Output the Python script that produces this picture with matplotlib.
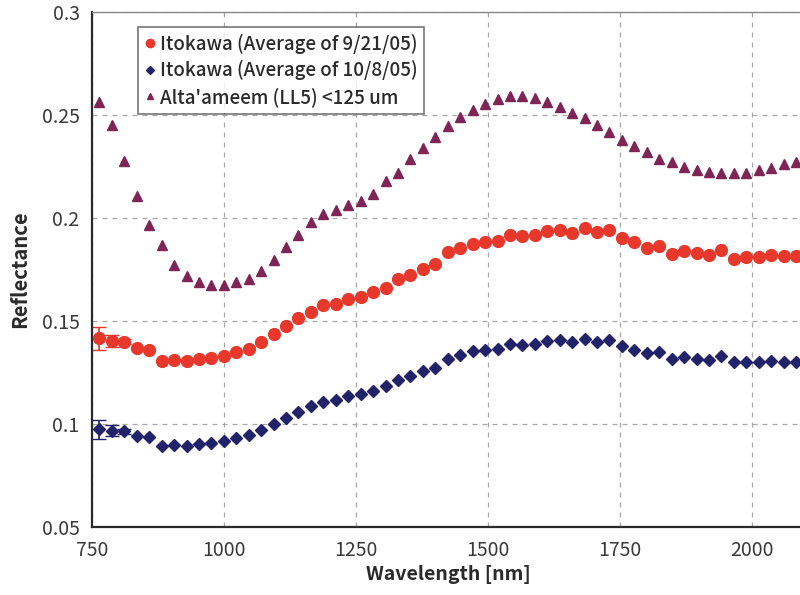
import matplotlib
matplotlib.use("Agg")
import matplotlib.pyplot as plt

plt.rcParams["font.family"] = ["Noto Sans CJK JP", "DejaVu Sans"]

# NIRS channel centres (nm)
wavelength = [764, 788, 811, 835, 858, 882, 905, 929, 952, 976,
              1000, 1023, 1047, 1070, 1094, 1117, 1141, 1164, 1188, 1212,
              1235, 1259, 1282, 1306, 1329, 1353, 1377, 1400, 1424, 1447,
              1471, 1494, 1518, 1541, 1565, 1589, 1612, 1636, 1659, 1683,
              1706, 1730, 1754, 1777, 1801, 1824, 1848, 1871, 1895, 1918,
              1942, 1966, 1989, 2013, 2036, 2060, 2083]

itokawa_0921 = [0.1417, 0.1404, 0.1401, 0.1369, 0.1359, 0.1307, 0.1312, 0.1307, 0.1315, 0.1319,
                0.1331, 0.1348, 0.1364, 0.1399, 0.1436, 0.1476, 0.1514, 0.1546, 0.1576, 0.1581,
                0.1605, 0.1618, 0.1643, 0.1662, 0.1702, 0.1723, 0.1755, 0.1779, 0.1834, 0.1855,
                0.1876, 0.1884, 0.1890, 0.1919, 0.1914, 0.1919, 0.1935, 0.1940, 0.1928, 0.1952,
                0.1932, 0.1943, 0.1903, 0.1882, 0.1855, 0.1866, 0.1823, 0.1842, 0.1831, 0.1819,
                0.1847, 0.1803, 0.1810, 0.1810, 0.1819, 0.1815, 0.1815]

itokawa_1008 = [0.0977, 0.0969, 0.0966, 0.0945, 0.0937, 0.0897, 0.0900, 0.0897, 0.0905, 0.0908,
                0.0918, 0.0932, 0.0948, 0.0972, 0.1001, 0.1030, 0.1058, 0.1090, 0.1109, 0.1117,
                0.1135, 0.1145, 0.1162, 0.1185, 0.1214, 0.1232, 0.1256, 0.1275, 0.1315, 0.1335,
                0.1353, 0.1360, 0.1367, 0.1388, 0.1385, 0.1388, 0.1402, 0.1409, 0.1399, 0.1415,
                0.1401, 0.1409, 0.1380, 0.1360, 0.1344, 0.1351, 0.1315, 0.1328, 0.1315, 0.1311,
                0.1331, 0.1300, 0.1302, 0.1304, 0.1307, 0.1304, 0.1304]

altaameem = [0.2563, 0.2451, 0.2278, 0.2104, 0.1964, 0.1868, 0.1774, 0.1721, 0.1691, 0.1676,
             0.1676, 0.1691, 0.1702, 0.1741, 0.1794, 0.1857, 0.1919, 0.1981, 0.2019, 0.2037,
             0.2064, 0.2080, 0.2116, 0.2177, 0.2220, 0.2286, 0.2341, 0.2391, 0.2446, 0.2491,
             0.2523, 0.2552, 0.2575, 0.2592, 0.2592, 0.2580, 0.2562, 0.2536, 0.2510, 0.2483,
             0.2451, 0.2418, 0.2378, 0.2349, 0.2322, 0.2286, 0.2273, 0.2249, 0.2230, 0.2225,
             0.2217, 0.2220, 0.2220, 0.2231, 0.2244, 0.2261, 0.2273]

# 1-sigma scatter, only visible on the short-wavelength end
err_0921 = [0.0055, 0.0030, 0.0012]
err_1008 = [0.0046, 0.0028, 0.0012]

RED, NAVY, PLUM = "#e8372b", "#22226a", "#7e2456"

fig = plt.figure(figsize=(8, 5.95), dpi=100)
ax = fig.add_axes([0.115, 0.1135, 0.891, 0.867])
ax.set_xlim(750, 2100)
ax.set_ylim(0.05, 0.3)
ax.set_xticks([750, 1000, 1250, 1500, 1750, 2000])
ax.set_yticks([0.05, 0.1, 0.15, 0.2, 0.25, 0.3])
ax.set_yticklabels(["0.05", "0.1", "0.15", "0.2", "0.25", "0.3"])
ax.grid(True, color="#a8a8a8", ls=(0, (4, 4)), lw=0.9)
ax.set_axisbelow(True)
for s in ("left", "bottom"):
    ax.spines[s].set_color("#2a2a2a"); ax.spines[s].set_linewidth(1.6)
ax.spines["top"].set_color("#888888"); ax.spines["top"].set_linewidth(1.0)
ax.spines["right"].set_visible(False)
ax.tick_params(length=0, pad=9, labelsize=14, colors="#3a3a3a")

n = len(err_0921)
ax.errorbar(wavelength[:n], itokawa_0921[:n], yerr=err_0921, fmt="none",
            ecolor=RED, elinewidth=1.2, capsize=5, zorder=2)
ax.errorbar(wavelength[:n], itokawa_1008[:n], yerr=err_1008, fmt="none",
            ecolor=NAVY, elinewidth=1.2, capsize=5, zorder=2)
ax.plot(wavelength, itokawa_0921, "o", color=RED, ms=8.5, mec=RED, ls="none",
        label="Itokawa (Average of 9/21/05)", zorder=3)
ax.plot(wavelength, itokawa_1008, "D", color=NAVY, ms=6.5, mec=NAVY, ls="none",
        label="Itokawa (Average of 10/8/05)", zorder=3)
ax.plot(wavelength, altaameem, "^", color=PLUM, ms=7, mec=PLUM, ls="none",
        label="Alta'ameem (LL5) <125 um", zorder=3)

ax.set_xlabel("Wavelength [nm]", fontsize=14, fontweight="bold", color="#2a2a2a", labelpad=3)
ax.set_ylabel("Reflectance", fontsize=14.5, fontweight="bold", color="#2a2a2a", labelpad=8)

leg = ax.legend(loc="upper left", bbox_to_anchor=(0.052, 0.988), fontsize=13.5,
                frameon=True, fancybox=False, edgecolor="#555555",
                handlelength=0.5, handletextpad=0.3, borderpad=0.35,
                labelspacing=0.35, markerscale=0.7)
leg.get_frame().set_linewidth(1.2)
for t in leg.get_texts():
    t.set_fontweight("medium"); t.set_color("#2a2a2a")

fig.savefig("out.png", dpi=100)
